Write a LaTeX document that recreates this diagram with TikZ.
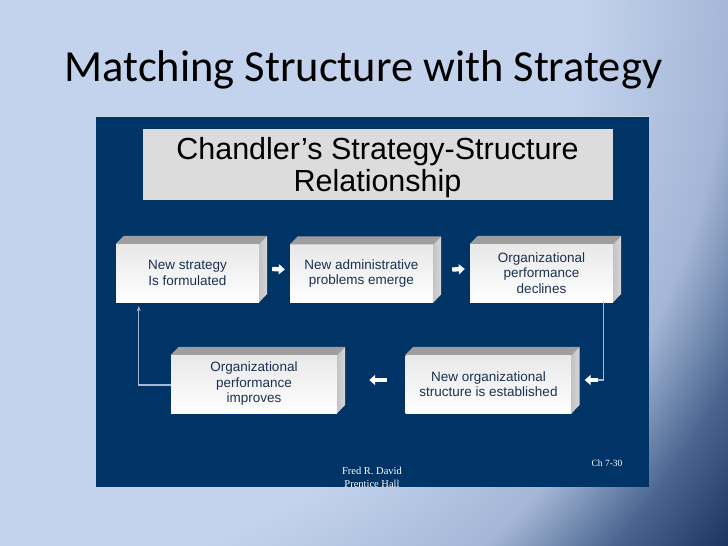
\documentclass[tikz,border=0pt]{standalone}
\usepackage{fontspec}
\setmainfont{Liberation Sans}
\newfontfamily\slidefont{Carlito}
\newfontfamily\notefont{Liberation Serif}
\usepackage{xcolor}
\usetikzlibrary{arrows.meta, positioning, calc}

\definecolor{bglight}{HTML}{C3D3EE}
\definecolor{bgmid}{HTML}{A4B6D6}
\definecolor{bgdeep}{HTML}{4A6690}
\definecolor{bgdark}{HTML}{1B3460}
\definecolor{panelblue}{HTML}{003366}
\definecolor{headgray}{HTML}{DCDCDC}
\definecolor{facetop}{HTML}{9E9E9E}
\definecolor{faceside}{HTML}{C4C4C4}
\definecolor{boxtext}{HTML}{1C3050}
\definecolor{linkblue}{HTML}{A6B8D2}

\pgfdeclareradialshading{bgglow}{\pgfpoint{0bp}{0bp}}{%
  color(0bp)=(bglight); color(14.5bp)=(bglight); color(18.25bp)=(bgmid);
  color(20.5bp)=(bgdeep); color(22.75bp)=(bgdark); color(50bp)=(bgdark)}

\tikzset{
  stepbox/.style={minimum width=143pt, minimum height=58pt, inner sep=0pt,
    align=center, font=\fontsize{13.5}{15.5}\selectfont, text=boxtext,
    top color=black!9, bottom color=white},
  widebox/.style={stepbox, minimum width=166pt},
  blockarrow/.style={white, line width=4.3pt, -{Triangle[length=6pt,width=10pt]}},
  loopline/.style={linkblue, line width=1.3pt},
}

\begin{document}
\begin{tikzpicture}[x=1pt, y=-1pt]
			\useasboundingbox (0,0) rectangle (728,546);
			% slide background
			\begin{scope}
				\clip (0,0) rectangle (728,546);
				\shade[shading=bgglow] (0,0) circle (1000);
			\end{scope}
			\node[font=\slidefont\fontsize{44.5}{48}\selectfont] (slidetitle) at (363.5,70) {Matching Structure with Strategy};
			% dark panel and heading
			\fill[panelblue] (96,116) rectangle (649,487);
			\draw[white!80!panelblue, line width=1pt] (96,116.5) -- (649,116.5);
			\fill[headgray] (143,129) rectangle (613,200);
			\node[align=center, font=\fontsize{30.5}{32}\selectfont] (heading) at (377.5,167.5) {Chandler’s Strategy-Structure\\Relationship};
			% boxes of the cycle
			\node[stepbox] (formulated) at (187.5,273) {New strategy\\Is formulated};
			\node[stepbox] (emerge) at (361.5,273.5) {New administrative\\problems emerge};
			\node[stepbox] (declines) at (541.5,273) {Organizational\\performance\\declines};
			\node[widebox] (established) at (488.5,384) {New organizational\\structure is established};
			\node[widebox] (improves) at (254,384) {Organizational\\performance\\improves};
			\foreach \n in {formulated, emerge, declines, established, improves}{
				\fill[facetop] (\n.north west) -- ++(8,-8) -| ($(\n.north east)+(8,-8)$) -- (\n.north east) -- cycle;
				\shade[left color=faceside, right color=faceside!70!white] (\n.north east) -- ++(8,-8) -- ++(0,58) -- (\n.south east) -- cycle;
			}
			% links
			\draw[blockarrow] ([xshift=13pt,yshift=4pt]formulated.east) -- ([xshift=-5pt,yshift=4pt]emerge.west);
			\draw[blockarrow] ([xshift=19pt,yshift=4pt]emerge.east) -- ([xshift=-5pt,yshift=4pt]declines.west);
			\coordinate (turn) at ([xshift=26pt,yshift=4pt]established.east);
			\draw[loopline] ([xshift=-10pt]declines.south east) |- (turn);
			\draw[blockarrow] (turn) -- ([xshift=13pt,yshift=4pt]established.east);
			\draw[blockarrow] ([xshift=-18pt,yshift=4pt]established.west) -- ([xshift=32pt,yshift=4pt]improves.east);
			\draw[loopline, -{Stealth[length=5pt,width=4pt]}] ([yshift=-1pt]improves.west) -| ([xshift=23pt,yshift=-4pt]formulated.south west);
			% footer notes
			\node[white, align=center, font=\notefont\fontsize{10.5}{13}\selectfont] (credit) at (372,477.5) {Fred R. David\\Prentice Hall};
			\node[white, font=\notefont\fontsize{9.5}{10}\selectfont] (chapter) at (607,463) {Ch 7-30};
		\end{tikzpicture}
\end{document}
